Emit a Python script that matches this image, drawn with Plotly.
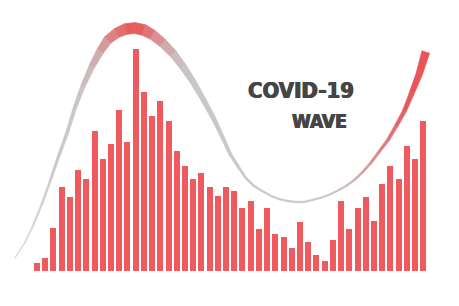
import numpy as np
import plotly.graph_objects as go

# ---- data ----
bar_index = list(range(1, 49))
cases = [8, 13, 43, 84, 74, 101, 92, 140, 112, 127, 161, 129,
         222, 179, 155, 170, 150, 120, 105, 92, 98, 84, 75, 84,
         80, 63, 70, 42, 63, 37, 34, 23, 49, 29, 16, 10,
         31, 70, 42, 63, 74, 50, 87, 105, 92, 125, 112, 150]

wave_x = [-1.7, -0.5, 0.5, 1.6, 2.6, 3.6, 4.7, 5.6, 6.6, 7.7, 8.7, 9.6,
          10.7, 11.8, 12.9, 14.0, 15.1, 16.3, 17.6, 18.8, 20.0, 21.2, 22.4, 23.5,
          24.5, 25.5, 26.4, 27.4, 28.4, 29.5, 30.4, 31.5, 32.5, 33.5, 34.5, 35.4,
          36.5, 37.5, 38.6, 39.6, 40.5, 41.6, 42.6, 43.7, 44.7, 45.7, 46.6, 47.5, 48.3]
wave_y = [13, 28, 45, 67, 90, 114, 139, 163, 185, 205, 220, 231,
          238, 242, 243, 241, 236, 228, 217, 204, 189, 172, 154, 135,
          117, 104, 93, 85, 80, 75, 72, 70, 69, 69, 71, 73,
          76, 80, 85, 91, 98, 108, 119, 131, 145, 160, 178, 197, 219]
# ribbon thickness (px) and red share (0 grey .. 1 red) along the wave
wave_w = [1, 1.2, 1.5, 1.8, 2, 2.5, 3, 3.5, 4.5, 6, 7.5, 9,
          10, 11, 11, 11, 10, 9, 8, 7, 6, 5, 4.5, 3.5,
          3, 2.5, 2, 1.8, 1.5, 1.5, 1.5, 1.5, 1.5, 1.5, 1.5, 1.5,
          1.5, 1.5, 1.5, 1.8, 2, 2.2, 2.5, 3, 3.5, 4, 5, 6.5, 8]
wave_red = [0, 0, 0, 0, 0, 0, 0, 0, 0.05, 0.15, 0.3, 0.5,
            0.7, 0.85, 1, 0.85, 0.6, 0.35, 0.15, 0.05, 0, 0, 0, 0,
            0, 0, 0, 0, 0, 0, 0, 0, 0, 0, 0, 0,
            0, 0.05, 0.1, 0.2, 0.3, 0.45, 0.6, 0.7, 0.8, 0.9, 1, 1, 1]

title_1 = "COVID-19"
title_2 = "WAVE"

# ---- styling ----
W, H = 459, 306
XR = [-3.50, 52.34]
YR = [-35, 271]
BAR = "#ee5a5d"
GREY = np.array([200, 200, 200])
RED = np.array([232, 84, 88])

sx = W / (XR[1] - XR[0])
sy = H / (YR[1] - YR[0])

fig = go.Figure()

# ribbon wave built as quads between offset edges
px = (np.array(wave_x) - XR[0]) * sx
py = (YR[1] - np.array(wave_y)) * sy
n = len(px)
tx = np.gradient(px)
ty = np.gradient(py)
ln = np.hypot(tx, ty)
nx, ny = -ty / ln, tx / ln
hw = np.array(wave_w) / 2
top_x, top_y = px + nx * hw, py + ny * hw
bot_x, bot_y = px - nx * hw, py - ny * hw


def to_data(x, y):
    return list(x / sx + XR[0]), list(YR[1] - y / sy)


for i in range(n - 1):
    t = (wave_red[i] + wave_red[i + 1]) / 2
    c = GREY * (1 - t) + RED * t
    if i < 4:
        c = c + (235 - c) * (1 - i / 4) * 0.6
    col = "rgb(%d,%d,%d)" % tuple(np.round(c).astype(int))
    qx = np.array([top_x[i], top_x[i + 1], bot_x[i + 1], bot_x[i], top_x[i]])
    qy = np.array([top_y[i], top_y[i + 1], bot_y[i + 1], bot_y[i], top_y[i]])
    dx, dy = to_data(qx, qy)
    fig.add_trace(go.Scatter(x=dx, y=dy, mode="lines", fill="toself",
                             fillcolor=col, line=dict(color=col, width=0.6),
                             hoverinfo="skip", showlegend=False))

fig.add_trace(go.Bar(x=bar_index, y=cases, marker_color=BAR,
                     marker_line_width=0, width=0.73, showlegend=False))

font_title = dict(family="'DejaVu Sans Condensed', 'Liberation Sans Narrow', 'Roboto Condensed', 'DejaVu Sans', sans-serif",
                  color="#454545", weight="bold",
                  shadow="0.6px 0 0 #454545, -0.6px 0 0 #454545")
fig.add_annotation(text=title_1, xref="paper", yref="paper", x=301 / W, y=1 - 90 / H,
                   xanchor="center", yanchor="middle", showarrow=False,
                   font=dict(size=22, **font_title))
fig.add_annotation(text=title_2, xref="paper", yref="paper", x=349 / W, y=1 - 121 / H,
                   xanchor="right", yanchor="middle", showarrow=False,
                   font=dict(size=19, **font_title))

fig.update_layout(width=W, height=H, margin=dict(l=0, r=0, t=0, b=0),
                  paper_bgcolor="white", plot_bgcolor="white",
                  xaxis=dict(range=XR, visible=False, fixedrange=True),
                  yaxis=dict(range=YR, visible=False, fixedrange=True),
                  bargap=0)
fig.write_html("out.html", config={"displayModeBar": False})
